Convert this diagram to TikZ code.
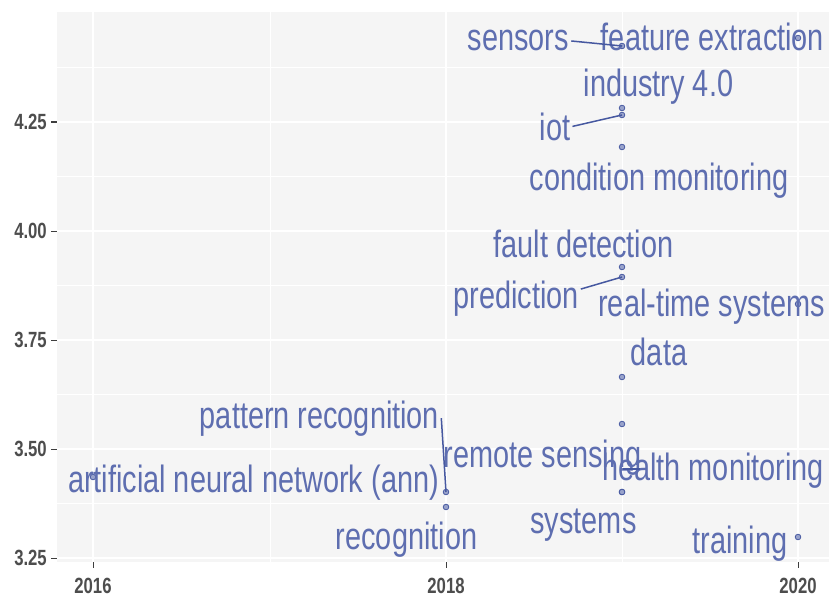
\documentclass[tikz,border=0pt]{standalone}
\usepackage{fontspec}
\setmainfont{Liberation Sans}[FakeStretch=0.76]
\definecolor{panelgrey}{HTML}{F5F5F5}
\definecolor{labelblue}{RGB}{94,110,176}
\definecolor{dotblue}{RGB}{70,88,160}
\definecolor{axisgrey}{HTML}{4D4D4D}
\begin{document}
\begin{tikzpicture}[x=1pt, y=-1pt,
  lbl/.style={text=labelblue, font=\fontsize{38}{40}\selectfont, inner sep=2pt, anchor=base},
  ticklbl/.style={text=axisgrey, font=\fontsize{22}{24}\selectfont\bfseries, inner sep=0pt},
  seg/.style={draw=dotblue, line width=1.5pt},
  dotmark/.style={fill=dotblue!55, draw=dotblue, line width=0.8pt}]
  \useasboundingbox (0,0) rectangle (829,599);
  % panel and grid
  \fill[panelgrey] (57,12) rectangle (829,562);
  \foreach \x in {270,622} \draw[white, line width=0.8pt] (\x,12)--(\x,562);
  \foreach \y in {67.5,176.5,285.5,394.5,503.5} \draw[white, line width=0.8pt] (57,\y)--(829,\y);
  \foreach \x in {93,446,798} \draw[white, line width=1.8pt] (\x,12)--(\x,562);
  \foreach \y in {122,231,340,449,558} \draw[white, line width=1.8pt] (57,\y)--(829,\y);
  % axes
  \foreach \y/\t in {122/4.25,231/4.00,340/3.75,449/3.50,558/3.25} {
    \draw[axisgrey!80!black, line width=1pt] (51,\y)--(57,\y);
    \node[ticklbl, anchor=east] (ytick\t) at (47,\y) {\t};
  }
  \foreach \x/\t in {93/2016,446/2018,798/2020} {
    \draw[axisgrey!80!black, line width=1pt] (\x,562)--(\x,568);
    \node[ticklbl, anchor=north] (xtick\t) at (\x,578) {\t};
  }
  % points
  \coordinate (p-fe) at (798,38);
  \coordinate (p-se) at (622,46);
  \coordinate (p-in) at (622,108);
  \coordinate (p-io) at (622,115);
  \coordinate (p-cm) at (622,147);
  \coordinate (p-fd) at (622,267);
  \coordinate (p-pr) at (622,277);
  \coordinate (p-rt) at (798,304);
  \coordinate (p-da) at (622,377);
  \coordinate (p-rs) at (622,424);
  \coordinate (p-hm) at (622,492);
  \coordinate (p-sy) at (622,492);
  \coordinate (p-pa) at (446,492);
  \coordinate (p-re) at (446,507);
  \coordinate (p-an) at (93,477);
  \coordinate (p-tr) at (798,537);
  \foreach \p in {fe,se,in,io,cm,fd,pr,rt,da,rs,hm,sy,pa,re,an,tr}
    \draw[dotmark] (p-\p) circle (2.8);
  % labels
  \node[lbl] (sensors) at (518.5,51) {sensors};
  \node[lbl] (feature) at (712.5,51) {feature extraction};
  \node[lbl] (industry) at (658.5,97) {industry 4.0};
  \node[lbl] (iot) at (555,140) {iot};
  \node[lbl] (condition) at (659,190) {condition monitoring};
  \node[lbl] (fault) at (583.5,257) {fault detection};
  \node[lbl] (prediction) at (516,308) {prediction};
  \node[lbl] (realtime) at (711.5,316) {real-time systems};
  \node[lbl] (data) at (659,365) {data};
  \node[lbl] (pattern) at (319.5,428) {pattern recognition};
  \node[lbl] (remote) at (542.5,467) {remote sensing};
  \node[lbl] (health) at (713,480) {health monitoring};
  \node[lbl] (ann) at (253.5,492) {artificial neural network (ann)};
  \node[lbl] (systems) at (583.5,533) {systems};
  \node[lbl] (recognition) at (406.5,549) {recognition};
  \node[lbl] (training) at (740,553) {training};
  % segments
  \coordinate (hm-a) at (623,469);
  \coordinate (hm-b) at (640,469);
  \draw[seg] (sensors.east) -- (p-se);
  \draw[seg] (iot.east) -- (p-io);
  \draw[seg] (prediction.8) -- (p-pr);
  \draw[seg] (pattern.east) -- (p-pa);
  \draw[seg] (hm-a) -- (hm-b);
\end{tikzpicture}
\end{document}
